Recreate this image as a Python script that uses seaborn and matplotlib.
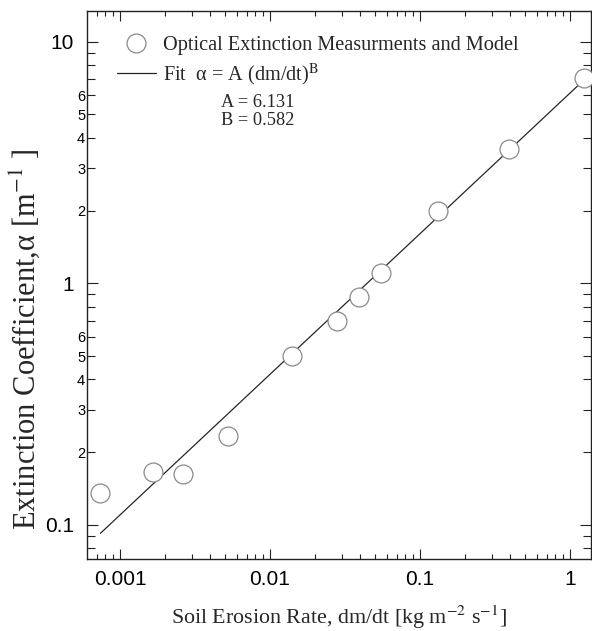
import numpy as np
import pandas as pd
import matplotlib
matplotlib.use("Agg")
import matplotlib.pyplot as plt
import seaborn as sns
from matplotlib.ticker import LogLocator, FuncFormatter, FixedLocator

# ---- data ----
erosion_rate = [0.00074, 0.00165, 0.00262, 0.00523, 0.0140, 0.0281, 0.0394, 0.0547, 0.132, 0.394, 1.24]
extinction = [0.135, 0.166, 0.163, 0.234, 0.50, 0.70, 0.88, 1.10, 1.99, 3.60, 7.05]
fit_A = 6.131
fit_B = 0.582
x_ticks = [0.001, 0.01, 0.1, 1]
x_tick_labels = ["0.001", "0.01", "0.1", "1"]
y_ticks = [0.1, 1, 10]
y_tick_labels = ["0.1", "1", "10"]
y_minor_labelled = [2, 3, 4, 5, 6]
legend_labels = ["Optical Extinction Measurments and Model", "Fit  α = A (dm/dt)$^{\\mathrm{B}}$"]
x_label = "Soil Erosion Rate, dm/dt [kg m$^{\\mathrm{-2}}$ s$^{\\mathrm{-1}}$]"
y_label = "Extinction Coefficient,α [m$^{\\mathrm{-1}}$ ]"

sns.set_style("ticks")
plt.rcParams["font.family"] = ["Liberation Sans", "DejaVu Sans"]
plt.rcParams["mathtext.fontset"] = "stix"

df = pd.DataFrame({"rate": erosion_rate, "alpha": extinction})
fit_x = np.array([min(erosion_rate), max(erosion_rate)])
fit_df = pd.DataFrame({"rate": fit_x, "alpha": fit_A * fit_x ** fit_B})

fig = plt.figure(figsize=(5.92, 6.31), dpi=100)
ax = fig.add_axes([87.3 / 592, 1 - 559 / 631, (591 - 87.3) / 592, (559 - 11) / 631])
ax.set_xscale("log")
ax.set_yscale("log")

sns.scatterplot(data=df, x="rate", y="alpha", ax=ax, marker="o", s=185,
                facecolor="white", edgecolor="#8a8a8a", linewidth=0.9,
                zorder=3, label=legend_labels[0])
sns.lineplot(data=fit_df, x="rate", y="alpha", ax=ax, color="#262626",
             linewidth=0.9, zorder=2, label=legend_labels[1], estimator=None)

ax.set_xlim(0.000605, 1.38)
ax.set_ylim(0.0723, 13.4)

# ticks
ax.xaxis.set_major_locator(FixedLocator(x_ticks))
ax.xaxis.set_major_formatter(FuncFormatter(lambda v, p: dict(zip(x_ticks, x_tick_labels)).get(v, "")))
ax.xaxis.set_minor_locator(LogLocator(base=10, subs=np.arange(2, 10)))
ax.xaxis.set_minor_formatter(FuncFormatter(lambda v, p: ""))
ax.yaxis.set_major_locator(FixedLocator(y_ticks))
ax.yaxis.set_major_formatter(FuncFormatter(lambda v, p: dict(zip(y_ticks, y_tick_labels)).get(v, "")))
ax.yaxis.set_minor_locator(LogLocator(base=10, subs=np.arange(2, 10)))


def minor_fmt(v, p):
    if v <= 0:
        return ""
    m = int(round(v / 10 ** np.floor(np.log10(v) + 1e-9)))
    return str(m) if m in y_minor_labelled else ""


ax.yaxis.set_minor_formatter(FuncFormatter(minor_fmt))

ax.tick_params(which="both", direction="in", top=True, right=True, colors="#222222",
               labelcolor="black", width=0.8)
ax.tick_params(axis="x", which="major", length=7, pad=8.0, labelsize=15)
ax.tick_params(axis="x", which="minor", length=3.5)
ax.tick_params(axis="y", which="major", length=8, pad=9.5, labelsize=15)
ax.tick_params(axis="y", which="minor", length=6, pad=1.5, labelsize=10.5)

for sp in ax.spines.values():
    sp.set_linewidth(1.0)
    sp.set_color("#222222")

ax.set_xlabel(x_label, family="Liberation Serif", fontsize=15.8)
ax.xaxis.label.set_va("baseline")
ax.xaxis.set_label_coords(0.5, (559 - 624) / 548)
ax.set_ylabel(y_label, family="Liberation Serif", fontsize=22)
ax.yaxis.label.set_va("center")
ax.yaxis.set_label_coords((25 - 87.3) / 503.7, (559 - 339.5) / 548)

ax.legend(loc="upper left", bbox_to_anchor=(0.059, 0.9545), borderaxespad=0,
          borderpad=0, frameon=False, handlelength=1.9, handletextpad=0.38,
          labelspacing=0.33, scatteryoffsets=[0.5],
          prop={"family": "Liberation Serif", "size": 14.6})

ax.text((220.7 - 87.3) / 503.7, (559 - 107.3) / 548, f"A = {fit_A:.3f}",
        transform=ax.transAxes, family="Liberation Serif", size=13.2, va="baseline")
ax.text((220.7 - 87.3) / 503.7, (559 - 125) / 548, f"B = {fit_B:.3f}",
        transform=ax.transAxes, family="Liberation Serif", size=13.2, va="baseline")

fig.savefig("out.png", dpi=100)
